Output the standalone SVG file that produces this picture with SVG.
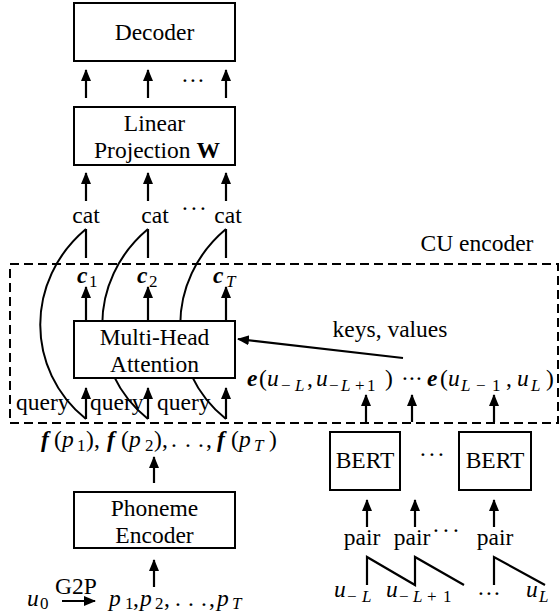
<svg xmlns="http://www.w3.org/2000/svg" width="560" height="614" viewBox="0 0 560 614">
<defs>
<marker id="ah" markerUnits="userSpaceOnUse" markerWidth="13" markerHeight="11" refX="11" refY="5" orient="auto">
<path d="M0,0 L12,5 L0,10 z" fill="#000"/>
</marker>
<style>
text{font-family:"Liberation Serif","DejaVu Serif",serif;font-size:23.5px;fill:#000}
.m{text-anchor:middle}
.box{fill:#fff;stroke:#000;stroke-width:2}
.ar{stroke:#000;stroke-width:2.2;fill:none;marker-end:url(#ah)}
.ln{stroke:#000;stroke-width:2.2;fill:none}
.cv{stroke:#000;stroke-width:2;fill:none}
.bi{font-weight:bold;font-style:italic}
.it{font-style:italic}
.sub{font-size:17px}
.dash{fill:none;stroke:#000;stroke-width:2;stroke-dasharray:9,5}
</style>
</defs>
<rect id="cu-encoder" class="dash" x="10" y="264" width="548" height="159"/>
<text class="m" x="477" y="251">CU encoder</text>
<g id="connectors">
<path class="cv" d="M86,229 C25,280 25,370 86,419"/>
<path class="cv" d="M148,229 C87,280 87,370 148,419"/>
<path class="cv" d="M226,229 C165,280 165,370 226,419"/>
<line class="ar" x1="86" y1="98" x2="86" y2="70"/>
<line class="ar" x1="148" y1="98" x2="148" y2="70"/>
<line class="ar" x1="226" y1="98" x2="226" y2="70"/>
<line class="ar" x1="86" y1="201" x2="86" y2="173"/>
<line class="ar" x1="148" y1="201" x2="148" y2="173"/>
<line class="ar" x1="226" y1="201" x2="226" y2="173"/>
<line class="ln" x1="86" y1="229" x2="86" y2="258"/>
<line class="ln" x1="148" y1="229" x2="148" y2="258"/>
<line class="ln" x1="226" y1="229" x2="226" y2="258"/>
<line class="ar" x1="86" y1="320" x2="86" y2="287"/>
<line class="ar" x1="148" y1="320" x2="148" y2="287"/>
<line class="ar" x1="226" y1="320" x2="226" y2="287"/>
<line class="ar" x1="86" y1="419" x2="86" y2="388"/>
<line class="ar" x1="148" y1="419" x2="148" y2="388"/>
<line class="ar" x1="226" y1="419" x2="226" y2="388"/>
<line class="ar" x1="403" y1="358" x2="238" y2="339"/>
<line class="ar" x1="366" y1="422" x2="366" y2="395"/>
<line class="ar" x1="412" y1="422" x2="412" y2="395"/>
<line class="ar" x1="494" y1="422" x2="494" y2="395"/>
<line class="ar" x1="367" y1="527" x2="367" y2="500"/>
<line class="ar" x1="415" y1="527" x2="415" y2="500"/>
<line class="ar" x1="494" y1="527" x2="494" y2="500"/>
<line class="ar" x1="154" y1="483" x2="154" y2="457"/>
<line class="ar" x1="154" y1="587" x2="154" y2="560"/>
<line class="ar" x1="62" y1="601" x2="95" y2="601"/>
<polyline class="ln" points="367,585 367,557 415,585 415,557 464,585"/>
<polyline class="ln" points="494,585 494,557 545,585"/>
</g>
<g id="decoder">
<rect class="box" x="74" y="3" width="161" height="58"/>
<text class="m" x="154.5" y="40">Decoder</text>
</g>
<text y="88"><tspan x="181">·</tspan><tspan x="189">·</tspan><tspan x="197">·</tspan></text>
<g id="linear-projection">
<rect class="box" x="74" y="107" width="161" height="58"/>
<text class="m" x="154.5" y="131">Linear</text>
<text class="m" x="157" y="158">Projection <tspan font-weight="bold">W</tspan></text>
</g>
<g id="cat">
<text class="m" x="86" y="223">cat</text>
<text class="m" x="155" y="223">cat</text>
<text class="m" x="228" y="223">cat</text>
<text y="216"><tspan x="181">·</tspan><tspan x="190">·</tspan><tspan x="199">·</tspan></text>
</g>
<g id="context">
<text y="283"><tspan x="77" class="bi">c</tspan><tspan x="89" y="287" class="sub">1</tspan></text>
<text y="283"><tspan x="137" class="bi">c</tspan><tspan x="149" y="287" class="sub">2</tspan></text>
<text y="283"><tspan x="213" class="bi">c</tspan><tspan x="226" y="287" class="sub it">T</tspan></text>
</g>
<g id="multi-head-attention">
<rect class="box" x="74" y="321" width="161" height="57"/>
<text class="m" x="154.5" y="345">Multi-Head</text>
<text class="m" x="154.5" y="372">Attention</text>
</g>
<text class="m" x="390" y="337">keys, values</text>
<g id="query">
<text x="16" y="410">query</text>
<text x="90" y="410">query</text>
<text x="157" y="410">query</text>
</g>
<g id="embeddings">
<text y="386"><tspan x="247" class="bi">e</tspan><tspan x="259">(</tspan><tspan x="267" class="it">u</tspan><tspan x="281" y="391" class="sub">−</tspan><tspan x="295" y="391" class="sub it">L</tspan><tspan x="307" y="386">,</tspan><tspan x="316" class="it">u</tspan><tspan x="329" y="391" class="sub">−</tspan><tspan x="341" y="391" class="sub it">L</tspan><tspan x="355" y="391" class="sub">+</tspan><tspan x="367" y="391" class="sub">1</tspan><tspan x="385" y="386">)</tspan></text>
<text y="386"><tspan x="401">·</tspan><tspan x="408">·</tspan><tspan x="415">·</tspan></text>
<text y="386"><tspan x="427" class="bi">e</tspan><tspan x="440">(</tspan><tspan x="448" class="it">u</tspan><tspan x="461" y="391" class="sub it">L</tspan><tspan x="476" y="391" class="sub">−</tspan><tspan x="492" y="391" class="sub">1</tspan><tspan x="506" y="386">,</tspan><tspan x="517" class="it">u</tspan><tspan x="531" y="391" class="sub it">L</tspan><tspan x="546" y="386">)</tspan></text>
</g>
<g id="phoneme-features">
<text y="447"><tspan x="41" class="bi">f</tspan><tspan x="54">(</tspan><tspan x="62" class="it">p</tspan><tspan x="77" y="451" class="sub">1</tspan><tspan x="86" y="447">)</tspan><tspan x="94">,</tspan></text>
<text y="447"><tspan x="107" class="bi">f</tspan><tspan x="121">(</tspan><tspan x="129" class="it">p</tspan><tspan x="145" y="451" class="sub">2</tspan><tspan x="154" y="447">)</tspan><tspan x="162">,</tspan></text>
<text y="447"><tspan x="171">.</tspan><tspan x="185">.</tspan><tspan x="198">.</tspan><tspan x="206">,</tspan></text>
<text y="447"><tspan x="217" class="bi">f</tspan><tspan x="231">(</tspan><tspan x="239" class="it">p</tspan><tspan x="254" y="451" class="sub it">T</tspan><tspan x="269" y="447">)</tspan></text>
</g>
<g id="bert-1">
<rect class="box" x="330" y="432" width="70" height="58"/>
<text class="m" x="365" y="468">BERT</text>
</g>
<text y="462"><tspan x="419">·</tspan><tspan x="428">·</tspan><tspan x="437">·</tspan></text>
<g id="bert-2">
<rect class="box" x="459" y="432" width="72" height="58"/>
<text class="m" x="495" y="468">BERT</text>
</g>
<g id="pairs">
<text class="m" x="362" y="545">pair</text>
<text class="m" x="412" y="545">pair</text>
<text y="538"><tspan x="432">·</tspan><tspan x="442">·</tspan><tspan x="452">·</tspan></text>
<text class="m" x="495" y="545">pair</text>
</g>
<g id="utterances">
<text y="597"><tspan x="334" class="it">u</tspan><tspan x="347" y="602" class="sub">−</tspan><tspan x="362" y="602" class="sub it">L</tspan></text>
<text y="597"><tspan x="386" class="it">u</tspan><tspan x="399" y="602" class="sub">−</tspan><tspan x="413" y="602" class="sub it">L</tspan><tspan x="427" y="602" class="sub">+</tspan><tspan x="443" y="602" class="sub">1</tspan></text>
<text y="601"><tspan x="477">·</tspan><tspan x="485">·</tspan><tspan x="493">·</tspan></text>
<text y="597"><tspan x="526" class="it">u</tspan><tspan x="539" y="602" class="sub it">L</tspan></text>
</g>
<g id="phoneme-encoder">
<rect class="box" x="74" y="492" width="161" height="56"/>
<text class="m" x="154.5" y="516">Phoneme</text>
<text class="m" x="154.5" y="543">Encoder</text>
</g>
<g id="input">
<text y="606"><tspan x="27" class="it">u</tspan><tspan x="40" y="609" class="sub">0</tspan></text>
<text class="m" x="76" y="594">G2P</text>
<text y="606"><tspan x="109" class="it">p</tspan><tspan x="125" y="609" class="sub">1</tspan><tspan x="133" y="606">,</tspan><tspan x="140" class="it">p</tspan><tspan x="155" y="609" class="sub">2</tspan><tspan x="164" y="606">,</tspan><tspan x="175">.</tspan><tspan x="188">.</tspan><tspan x="201">.</tspan><tspan x="209">,</tspan><tspan x="217" class="it">p</tspan><tspan x="232" y="609" class="sub it">T</tspan></text>
</g>
</svg>
